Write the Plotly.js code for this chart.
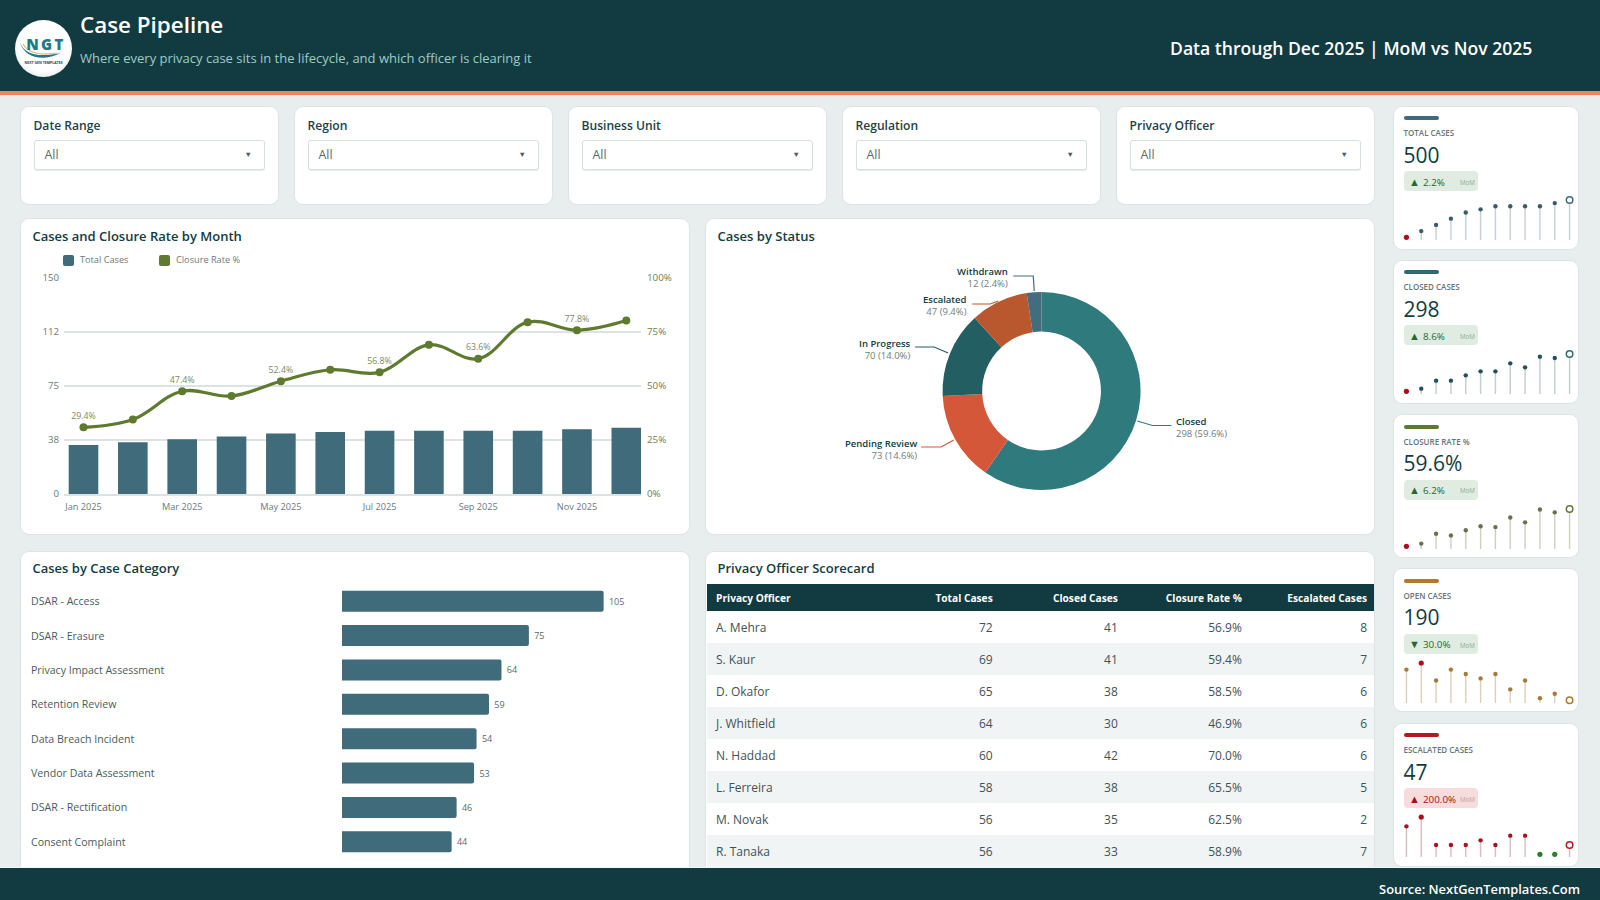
<!DOCTYPE html>
<html><head><meta charset="utf-8">
<script src="https://cdn.plot.ly/plotly-3.0.1.min.js"></script>
<style>
html,body{margin:0;padding:0;width:1600px;height:900px;overflow:hidden;background:#e8eded;font-family:"Open Sans",sans-serif;color:#123c41}
#page{position:relative;width:1600px;height:900px;overflow:hidden}
.abs{position:absolute}
.card{position:absolute;background:#fff;border:1.5px solid #dde4e4;border-radius:9px;box-sizing:border-box;overflow:hidden}
.t{position:absolute;white-space:nowrap;line-height:1}
.sel{position:absolute;left:12.5px;top:33px;width:231px;height:30px;border:1.5px solid #d8dfe0;border-radius:3px;box-sizing:border-box;background:#fff;box-shadow:0 1px 1px #e6eaea}
.plot{position:absolute}
</style></head><body><div id="page"></div>
<script>
// ---------- data ----------
const months=['Jan 2025','Feb 2025','Mar 2025','Apr 2025','May 2025','Jun 2025','Jul 2025','Aug 2025','Sep 2025','Oct 2025','Nov 2025','Dec 2025'];
const totalCases=[34,36,38,40,42,43,44,44,44,44,45,46];
const closedCases=[10,12,18,18,22,25,25,31,28,36,35,38];
const openCases=[21,24,16,21,19,17,19,12,16,8,10,7];
const escalatedCases=[7,9,3,3,3,4,3,5,5,1,1,3];
const closureRate=[29.4,33.3,47.4,45.0,52.4,58.1,56.8,70.5,63.6,81.8,77.8,82.6];
const rateLabels=['29.4%','','47.4%','','52.4%','','56.8%','','63.6%','','77.8%',''];
const y2Range=[-3.8,103.8];
const statusNames=['Closed','Pending Review','In Progress','Escalated','Withdrawn'];
const statusValues=[298,73,70,47,12];
const statusShares=['59.6%','14.6%','14.0%','9.4%','2.4%'];
const statusColors=['#2e7a7d','#d4573a','#235f62','#b9572f','#426d7e'];
const categoryNames=['DSAR - Access','DSAR - Erasure','Privacy Impact Assessment','Retention Review','Data Breach Incident','Vendor Data Assessment','DSAR - Rectification','Consent Complaint'];
const categoryValues=[105,75,64,59,54,53,46,44];
const tableHeaders=['Privacy Officer','Total Cases','Closed Cases','Closure Rate %','Escalated Cases'];
const officers=['A. Mehra','S. Kaur','D. Okafor','J. Whitfield','N. Haddad','L. Ferreira','M. Novak','R. Tanaka'];
const officerTotal=[72,69,65,64,60,58,56,56];
const officerClosed=[41,41,38,30,42,38,35,33];
const officerRate=['56.9%','59.4%','58.5%','46.9%','70.0%','65.5%','62.5%','58.9%'];
const officerEscalated=[8,7,6,6,6,5,2,7];
const filters=['Date Range','Region','Business Unit','Regulation','Privacy Officer'];
const kpiNames=['TOTAL CASES','CLOSED CASES','CLOSURE RATE %','OPEN CASES','ESCALATED CASES'];
const kpiValues=['500','298','59.6%','190','47'];
const kpiDeltas=['2.2%','8.6%','6.2%','30.0%','200.0%'];
const kpiArrows=['▲','▲','▲','▼','▲'];
const kpiBad=[false,false,false,false,true];
const kpiLowerBetter=[false,false,false,true,true];
const kpiSeries=[totalCases,closedCases,closureRate,openCases,escalatedCases];
const kpiAccent=['#3f6b7a','#2f6a73','#5f7a2f','#b07a2e','#b01c22'];
const kpiDot=['#3d5a66','#24505a','#6c6f50','#a37c3c','#a31424'];
const kpiStem=['#c6d0d2','#c2cdce','#cfcfbf','#dccfb6','#dcbcc0'];
const font='"Open Sans",sans-serif';
// ---------- layout helpers ----------
const page=document.getElementById('page');
function el(parent,cls,css,html){const d=document.createElement('div');d.className=cls;d.style.cssText=css;if(html!==undefined)d.innerHTML=html;parent.appendChild(d);return d;}
function txt(parent,x,y,size,color,weight,s,extra){return el(parent,'t',`left:${x}px;top:${y-size/2}px;font-size:${size}px;color:${color};font-weight:${weight};${extra||''}`,s);}
const cfg={staticPlot:true,displayModeBar:false};
// header
el(page,'abs','left:0;top:0;width:1600px;height:91px;background:#113b40');
el(page,'abs','left:0;top:91px;width:1600px;height:4px;background:#ec8468');
el(page,'abs','left:15px;top:19.5px;width:57px;height:57px;border-radius:50%;background:radial-gradient(circle at 50% 45%,#ffffff 60%,#c9d0d1 100%);overflow:hidden',
 `<svg width="57" height="57" viewBox="0 0 57 57"><path d="M5 22 C9 34 22 38 46 33 C28 42 9 38 5 22Z" fill="#1f7a85"/><path d="M8 24 C13 33 26 36 42 33" stroke="#d9b777" stroke-width="1.2" fill="none"/><text x="31" y="30" text-anchor="middle" font-family="Open Sans" font-weight="800" font-size="15" fill="#1f7a85" letter-spacing="2.4">NGT</text><text x="28.5" y="43.5" text-anchor="middle" font-family="Open Sans" font-weight="700" font-size="3.5" fill="#2c3d4c">NEXT GEN TEMPLATES</text></svg>`);
txt(page,80,25,22.4,'#ffffff',600,'Case Pipeline');
txt(page,80,58.5,13,'#9fcbc6',400,'Where every privacy case sits in the lifecycle, and which officer is clearing it');
txt(page,1170,49,17.6,'#ffffff',600,'Data through Dec 2025 | MoM vs Nov 2025');
// filters
filters.forEach((f,i)=>{
 const c=el(page,'card',`left:${20+274*i}px;top:105.5px;width:258.5px;height:99px`);
 txt(c,12.5,20,12.1,'#1d4247',600,f);
 const s=el(c,'sel','');
 txt(s,10,15,12.4,'#5a6a6e',400,'All');
 txt(s,210,14.5,7.5,'#4a5a5e',400,'▼');
});
// cards
const mc=el(page,'card','left:20px;top:217.5px;width:669.5px;height:317px');
txt(mc,11.5,17.5,13,'#123c41',600,'Cases and Closure Rate by Month');
el(mc,'abs','left:41.5px;top:36px;width:11px;height:11px;border-radius:2px;background:#3f6b7a');
txt(mc,59,41.5,9.2,'#6b7a7e',400,'Total Cases');
el(mc,'abs','left:138px;top:36px;width:11px;height:11px;border-radius:2px;background:#5f7a2f');
txt(mc,155,41.5,9.2,'#6b7a7e',400,'Closure Rate %');
const sc=el(page,'card','left:705px;top:217.5px;width:669.5px;height:317px');
txt(sc,11.5,17.5,13,'#123c41',600,'Cases by Status');
const cc=el(page,'card','left:20px;top:550.5px;width:669.5px;height:330px');
txt(cc,11.5,17,13,'#123c41',600,'Cases by Case Category');
const oc=el(page,'card','left:705px;top:550.5px;width:669.5px;height:330px');
txt(oc,11.5,17,13,'#123c41',600,'Privacy Officer Scorecard');
// month chart
const mDiv=el(page,'plot','left:21px;top:218px;width:668px;height:316px');
const yTicks=[0,37.5,75,112.5,150], yLabels=['0','38','75','112','150'];
const y2Labels=['0%','25%','50%','75%','100%'];
const y2Ticks=y2Labels.map((_,i)=>y2Range[0]+(y2Range[1]-y2Range[0])*i/4);
Plotly.newPlot(mDiv,[
 {type:'bar',x:months,y:totalCases,name:'Total Cases',width:0.6,marker:{color:'#3f6b7a'},yaxis:'y'},
 {type:'scatter',x:months,y:closureRate,name:'Closure Rate %',yaxis:'y2',mode:'lines+markers+text',text:rateLabels,textposition:'top center',
  textfont:{size:8.8,color:'#7d8a62',family:font},cliponaxis:false,
  line:{color:'#5f7a2f',width:3.2,shape:'spline',smoothing:1.1},marker:{color:'#5f7a2f',size:8}}
],{width:668,height:316,margin:{l:43,r:48,t:60.3,b:40.3},paper_bgcolor:'rgba(0,0,0,0)',plot_bgcolor:'rgba(0,0,0,0)',showlegend:false,font:{family:font},
 xaxis:{type:'category',range:[-0.395,11.298],tickvals:months.filter((_,i)=>i%2===0),tickangle:0,showgrid:false,zeroline:false,showline:true,linecolor:'#dde2e3',linewidth:1.5,ticks:'',ticklen:0,ticklabelstandoff:3,tickfont:{size:9.2,color:'#6b7a7e'}},
 yaxis:{range:[0,150],tickvals:yTicks,ticktext:yLabels,gridcolor:'#dde2e3',gridwidth:1.5,zeroline:false,tickfont:{size:9.6,color:'#6b7a7e'},ticks:'',ticklabelstandoff:4,automargin:false},
 yaxis2:{overlaying:'y',side:'right',range:y2Range,tickvals:y2Ticks,ticktext:y2Labels,showgrid:false,zeroline:false,tickfont:{size:9.8,color:'#6f8150'},ticks:'',ticklabelstandoff:5,automargin:false}
},cfg);
// donut
const dW=669.5,dH=316,dL=705,dT=218;
const px=x=>(x-dL)/dW, py=y=>1-(y-dT)/dH;
const cx=1041.3,cy=391,R=99;
const labelX=[1175,917.7,911.5,968,1009], labelY=[427,449,349.5,305.5,277.5];
const connectors=[[[1137,421],[1152,425.5],[1171,425.5]],[[953.5,440],[941,447],[921,447]],[[948,353],[934,347],[915,347]],[[998,301],[990,304],[972,304]],[[1034,291],[1033,276],[1013,276]]];
const dDiv=el(page,'plot',`left:${dL}px;top:${dT}px;width:${dW}px;height:${dH}px`);
Plotly.newPlot(dDiv,[{type:'pie',labels:statusNames,values:statusValues,sort:false,direction:'clockwise',rotation:0,hole:0.6,textinfo:'none',
 marker:{colors:statusColors,line:{width:0}},domain:{x:[px(cx-R),px(cx+R)],y:[py(cy+R),py(cy-R)]}}],
 {width:dW,height:dH,margin:{l:0,r:0,t:0,b:0},paper_bgcolor:'rgba(0,0,0,0)',showlegend:false,font:{family:font},
  annotations:statusNames.map((n,i)=>({xref:'paper',yref:'paper',x:px(labelX[i]),y:py(labelY[i]),xanchor:i===0?'left':'right',yanchor:'middle',align:i===0?'left':'right',showarrow:false,borderpad:0,
   text:`<span style="color:#123c41;font-weight:600">${n}</span><br><span style="color:#6f7d80">${statusValues[i]} (${statusShares[i]})</span>`,font:{size:9.5,family:font}})),
  shapes:connectors.map((c,i)=>({type:'path',xref:'paper',yref:'paper',path:'M'+c.map(p=>px(p[0])+','+py(p[1])).join(' L'),line:{color:statusColors[i],width:1.2}}))
 },cfg);
// category bars
const bDiv=el(page,'plot','left:21px;top:551px;width:668px;height:316px');
const bW=298.4;
Plotly.newPlot(bDiv,[{type:'bar',orientation:'h',x:categoryValues,y:categoryNames,width:0.61,marker:{color:'#3f6b7a'},text:categoryValues.map(v=>'\u00a0'+v),textposition:'outside',cliponaxis:false,
  textfont:{size:9,color:'#5a6a6e',family:font}}],
 {width:668,height:316,margin:{l:321.4,r:48.2,t:32.6,b:8.3},barcornerradius:2,paper_bgcolor:'rgba(0,0,0,0)',plot_bgcolor:'rgba(0,0,0,0)',showlegend:false,font:{family:font},
  xaxis:{range:[0,120],visible:false},yaxis:{type:'category',autorange:'reversed',showticklabels:false,showgrid:false,zeroline:false,showline:false,ticks:''},
  annotations:categoryNames.map(n=>({xref:'paper',yref:'y',x:(30.5-342.4)/bW,y:n,xanchor:'left',yanchor:'middle',showarrow:false,text:n,font:{size:10.6,color:'#4a5c60',family:font}}))
 },cfg);
// table: header band and row stripes sit behind transparent table traces
el(page,'abs','left:707px;top:584px;width:667px;height:27px;background:#113b40');
officers.forEach((_,i)=>{ if(i%2) el(page,'abs',`left:707px;top:${611+32*i}px;width:667px;height:32px;background:#f0f4f4`); });
const tTop=570,tH=330;
const tDiv=el(page,'plot',`left:707.5px;top:${tTop}px;width:666.5px;height:${tH}px`);
const ty=y=>1-(y-tTop)/tH;
const colW=[167.5,125,125,124,125];
const clear='rgba(0,0,0,0)';
const tAlign=['left','right','right','right','right'];
Plotly.newPlot(tDiv,[
 {type:'table',columnwidth:colW,domain:{x:[0,1],y:[ty(627),ty(583)]},
  header:{values:tableHeaders.map(h=>'<b>'+h+'</b>'),align:tAlign,height:27,fill:{color:clear},line:{width:0,color:clear},font:{color:'#ffffff',size:10.2,family:font}},
  cells:{values:tableHeaders.map(()=>['']),height:10,fill:{color:clear},line:{width:0,color:clear},font:{size:1,color:clear}}},
 {type:'table',columnwidth:colW,domain:{x:[0,1],y:[0,ty(588)]},
  header:{values:tableHeaders.map(()=>' '),align:tAlign,height:27,fill:{color:clear},line:{width:0,color:clear},font:{color:clear,size:10.4,family:font}},
  cells:{values:[officers,officerTotal,officerClosed,officerRate,officerEscalated],align:tAlign,height:32,fill:{color:clear},line:{width:0,color:clear},font:{color:'#3f5256',size:12,family:font}}}
 ],
 {width:666.5,height:tH,margin:{l:0,r:0,t:0,b:0},paper_bgcolor:'rgba(0,0,0,0)',font:{family:font}},cfg);
// KPI cards
kpiNames.forEach((k,i)=>{
 const top=105.5+154.3*i;
 const c=el(page,'card',`left:1392.5px;top:${top}px;width:186.5px;height:144px`);
 el(c,'abs',`left:10px;top:9.5px;width:35px;height:4px;border-radius:2px;background:${kpiAccent[i]}`);
 txt(c,10,26.5,8,'#66757a',600,k);
 txt(c,10,48.5,21,'#123c41',500,kpiValues[i]);
 const bad=kpiBad[i];
 const b=el(c,'abs',`left:10px;top:64.5px;width:74px;height:20px;border-radius:4px;background:${bad?'#f6dcdc':'#e0ece2'}`);
 const col=bad?'#a80f1c':'#24682e';
 txt(b,5.5,10,11,col,400,kpiArrows[i]);
 txt(b,19.5,11.5,9.8,col,500,kpiDeltas[i]);
 txt(b,56.5,12,6.2,bad?'#c59aa0':'#8aa890',400,'MoM');
 const v=kpiSeries[i], mn=Math.min(...v), mx=Math.max(...v), s=mx-mn, h=45, extra=8;
 const base=mn-0.0714*s;
 const worst=kpiLowerBetter[i]?mx:mn, best=mn, last=v.length-1;
 const colors=v.map((y,j)=>j===last?'#ffffff':y===worst?'#b00d1c':(kpiLowerBetter[i]&&y===best)?'#2e7d32':kpiDot[i]);
 const sizes=v.map((y,j)=>j===last?6.5:(y===worst||(kpiLowerBetter[i]&&y===best))?5.2:4.4);
 const lines=v.map((y,j)=>j===last?kpiAccent[i]:colors[j]);
 const widths=v.map((y,j)=>j===last?1.5:0);
 const d=el(page,'plot',`left:1398.6px;top:${top+134.5-h}px;width:177.5px;height:${h+extra}px`);
 Plotly.newPlot(d,[
  {type:'scatter',mode:'markers',x:months,y:v,marker:{size:1,opacity:0},
   error_y:{type:'data',symmetric:false,array:v.map(()=>0),arrayminus:v.map(y=>y-base),width:0,thickness:1.4,color:kpiStem[i]}},
  {type:'scatter',mode:'markers',x:months,y:v,cliponaxis:false,marker:{color:colors,size:sizes,line:{color:lines,width:widths},opacity:1}}],
  {width:177.5,height:h+extra,margin:{l:0,r:0,t:0,b:extra},paper_bgcolor:'rgba(0,0,0,0)',plot_bgcolor:'rgba(0,0,0,0)',showlegend:false,
   xaxis:{type:'category',visible:false,range:[-0.5,11.5]},yaxis:{visible:false,range:[base,base+s*h/37.33]}},cfg);
});
// footer
el(page,'abs','left:0;top:867px;width:1600px;height:1px;background:#f4f6f6');
el(page,'abs','left:0;top:868px;width:1600px;height:32px;background:#113b40');
const src=txt(page,0,889,12.9,'#ffffff',600,'Source: NextGenTemplates.Com');
src.style.left='auto';src.style.right='20px';
</script></body></html>
